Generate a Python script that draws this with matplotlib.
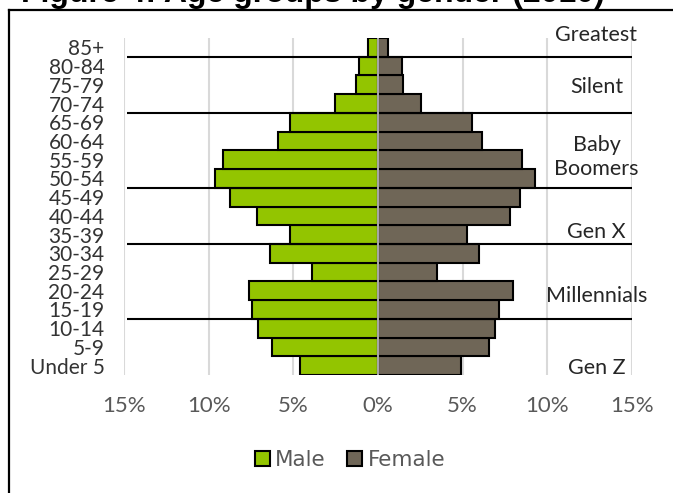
import numpy as np
import matplotlib
matplotlib.use('Agg')
import matplotlib.pyplot as plt
from matplotlib.lines import Line2D
from matplotlib.patches import Patch

# age groups, bottom to top
ages = ['Under 5', '5-9', '10-14', '15-19', '20-24', '25-29', '30-34', '35-39',
        '40-44', '45-49', '50-54', '55-59', '60-64', '65-69', '70-74', '75-79',
        '80-84', '85+']
male = [4.61, 6.24, 7.07, 7.42, 7.60, 3.92, 6.38, 5.20, 7.13, 8.74, 9.63,
        9.17, 5.89, 5.20, 2.54, 1.30, 1.10, 0.57]
female = [4.88, 6.58, 6.91, 7.17, 7.95, 3.50, 5.98, 5.24, 7.80, 8.39, 9.27,
          8.49, 6.12, 5.53, 2.54, 1.50, 1.44, 0.61]

# generation names and the boundaries between them (in row units)
generations = ['Gen Z', 'Millennials', 'Gen X', 'Baby\nBoomers', 'Silent', 'Greatest']
gen_label_y = [-0.13, 3.72, 7.14, 11.15, 14.88, 17.66]
gen_bounds = [2.5, 6.5, 9.5, 13.5, 16.5]
xticks = [-15, -10, -5, 0, 5, 10, 15]

green = '#93C500'
brown = '#6F6657'

fig = plt.figure(figsize=(6.73, 4.93), dpi=100)
ax = fig.add_axes([124/673, 1 - 375/493, 508/673, 337/493])

y = np.arange(len(ages))
ax.barh(y, -np.array(male), height=1.0, color=green, edgecolor='black', linewidth=1.5, zorder=2)
ax.barh(y, female, height=1.0, color=brown, edgecolor='black', linewidth=1.5, zorder=2)
ax.axvline(0, color='#C8C8C8', lw=1.2, zorder=4)

for b in gen_bounds:
    ax.hlines(b, -14.8, 15, color='black', lw=1.5, zorder=3)

for name, gy in zip(generations, gen_label_y):
    ax.text(12.9, gy, name, ha='center', va='center', fontsize=15.5,
            family='Lato', color='#262626', linespacing=1.25)

ax.set_xlim(-15, 15)
ax.set_ylim(-0.5, len(ages) - 0.5)
ax.set_xticks(xticks)
ax.set_xticklabels(['%d%%' % abs(t) for t in xticks], fontsize=16, family='Lato', color='#595959')
ax.set_yticks(y)
ax.set_yticklabels(ages, fontsize=15, family='Lato', color='#333333')
ax.tick_params(axis='both', length=0)
ax.tick_params(axis='y', pad=14)
ax.tick_params(axis='x', pad=15)
ax.grid(axis='x', color='#D9D9D9', lw=1.5, zorder=0)
ax.set_axisbelow(True)
for s in ax.spines.values():
    s.set_visible(False)

handles = [Patch(facecolor=green, edgecolor='black', lw=1.5, label='Male'),
           Patch(facecolor=brown, edgecolor='black', lw=1.5, label='Female')]
fig.legend(handles=handles, loc='center', bbox_to_anchor=(350/673, 1 - 460/493),
           ncol=2, frameon=False, handlelength=0.7, handleheight=0.7,
           handletextpad=0.25, columnspacing=1.0,
           prop={'family': 'DejaVu Sans', 'size': 15.5}, labelcolor='#595959')

# chart frame (only the left and top edges are in view)
fig.add_artist(Line2D([8.5/673, 8.5/673], [0, 1 - 10/493], color='black', lw=1.6))
fig.add_artist(Line2D([8.5/673, 1], [1 - 10/493, 1 - 10/493], color='black', lw=1.6))

# title sits mostly above the top edge of the image
fig.text(313/673, 1 - 2/493, 'Figure 4: Age groups by gender (2010)', ha='center',
         va='baseline', fontsize=23, weight='bold', family='Liberation Sans')

fig.savefig('out.png', dpi=100)
